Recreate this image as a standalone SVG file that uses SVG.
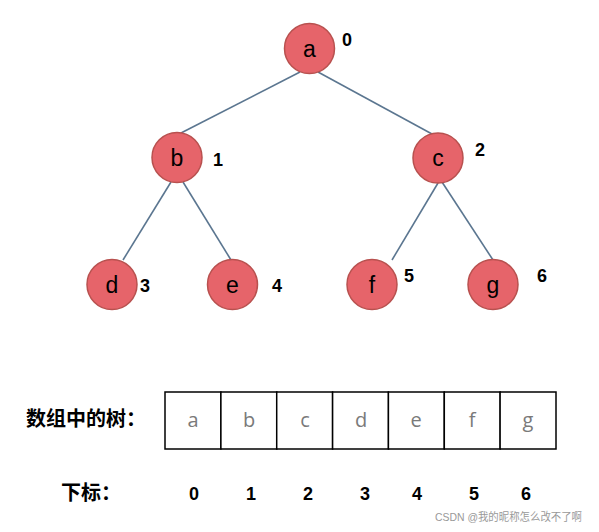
<svg xmlns="http://www.w3.org/2000/svg" width="599" height="532" viewBox="0 0 599 532">
<style>
.node circle{fill:#e6646a;stroke:#b8514f;stroke-width:1.5}
.node text.l{font-family:"Liberation Sans",Arial,sans-serif;font-size:23px;fill:#000;text-anchor:middle}
.idx{font-family:"Liberation Sans",Arial,sans-serif;font-size:18px;font-weight:bold;fill:#000}
.edges line{stroke:#5b7690;stroke-width:1.6}
.cell{fill:#fff;stroke:#000;stroke-width:1.5}
.cv{font-family:"Open Sans","DejaVu Sans",sans-serif;font-size:20px;fill:#7a7a7a;text-anchor:middle}
.cn{font-family:"Noto Sans CJK SC","Noto Sans",sans-serif;font-size:20px;font-weight:bold;fill:#000}
.num{font-family:"Liberation Sans",Arial,sans-serif;font-size:18px;font-weight:bold;fill:#000;text-anchor:middle}
.wm{font-family:"Liberation Sans","Noto Sans CJK SC",sans-serif;font-size:11px;fill:#999}
</style>
<g class="edges">
<line x1="300" y1="72" x2="181" y2="133"/>
<line x1="318" y1="72" x2="432" y2="134"/>
<line x1="171" y1="182" x2="123" y2="260"/>
<line x1="183" y1="182" x2="231" y2="260"/>
<line x1="438" y1="183" x2="392" y2="260"/>
<line x1="442" y1="182" x2="493" y2="260"/>
</g>
<g id="node-a" class="node"><circle cx="309.5" cy="48.5" r="25"/><text class="l" x="309.5" y="57">a</text><text class="idx" x="342" y="46">0</text></g>
<g id="node-b" class="node"><circle cx="177" cy="157.5" r="25"/><text class="l" x="177" y="166">b</text><text class="idx" x="213" y="166">1</text></g>
<g id="node-c" class="node"><circle cx="438" cy="158" r="25"/><text class="l" x="438" y="166">c</text><text class="idx" x="475" y="156">2</text></g>
<g id="node-d" class="node"><circle cx="112" cy="284.5" r="25"/><text class="l" x="112" y="293">d</text><text class="idx" x="140" y="292">3</text></g>
<g id="node-e" class="node"><circle cx="232.5" cy="284.5" r="25"/><text class="l" x="232.5" y="293">e</text><text class="idx" x="272" y="292">4</text></g>
<g id="node-f" class="node"><circle cx="372" cy="284.5" r="25"/><text class="l" x="372" y="293">f</text><text class="idx" x="404" y="282">5</text></g>
<g id="node-g" class="node"><circle cx="493" cy="284.5" r="25"/><text class="l" x="493" y="293">g</text><text class="idx" x="537" y="282">6</text></g>
<g id="array">
<rect class="cell" x="165" y="392" width="55.9" height="57"/>
<rect class="cell" x="220.9" y="392" width="55.9" height="57"/>
<rect class="cell" x="276.7" y="392" width="55.9" height="57"/>
<rect class="cell" x="332.6" y="392" width="55.9" height="57"/>
<rect class="cell" x="388.4" y="392" width="55.9" height="57"/>
<rect class="cell" x="444.3" y="392" width="55.9" height="57"/>
<rect class="cell" x="500.1" y="392" width="55.9" height="57"/>
<text class="cv" x="193" y="427">a</text>
<text class="cv" x="249" y="427">b</text>
<text class="cv" x="305" y="427">c</text>
<text class="cv" x="361" y="427">d</text>
<text class="cv" x="416" y="427">e</text>
<text class="cv" x="472" y="427">f</text>
<text class="cv" x="528" y="427">g</text>
</g>
<text class="cn" x="26" y="426">数组中的树：</text>
<text class="cn" x="61" y="500">下标：</text>
<g id="indices">
<text class="num" x="194" y="500">0</text>
<text class="num" x="251" y="500">1</text>
<text class="num" x="308" y="500">2</text>
<text class="num" x="365" y="500">3</text>
<text class="num" x="417" y="500">4</text>
<text class="num" x="474" y="500">5</text>
<text class="num" x="526" y="500">6</text>
</g>
<text class="wm" x="435" y="521" textLength="147" lengthAdjust="spacingAndGlyphs">CSDN @我的昵称怎么改不了啊</text>
</svg>
